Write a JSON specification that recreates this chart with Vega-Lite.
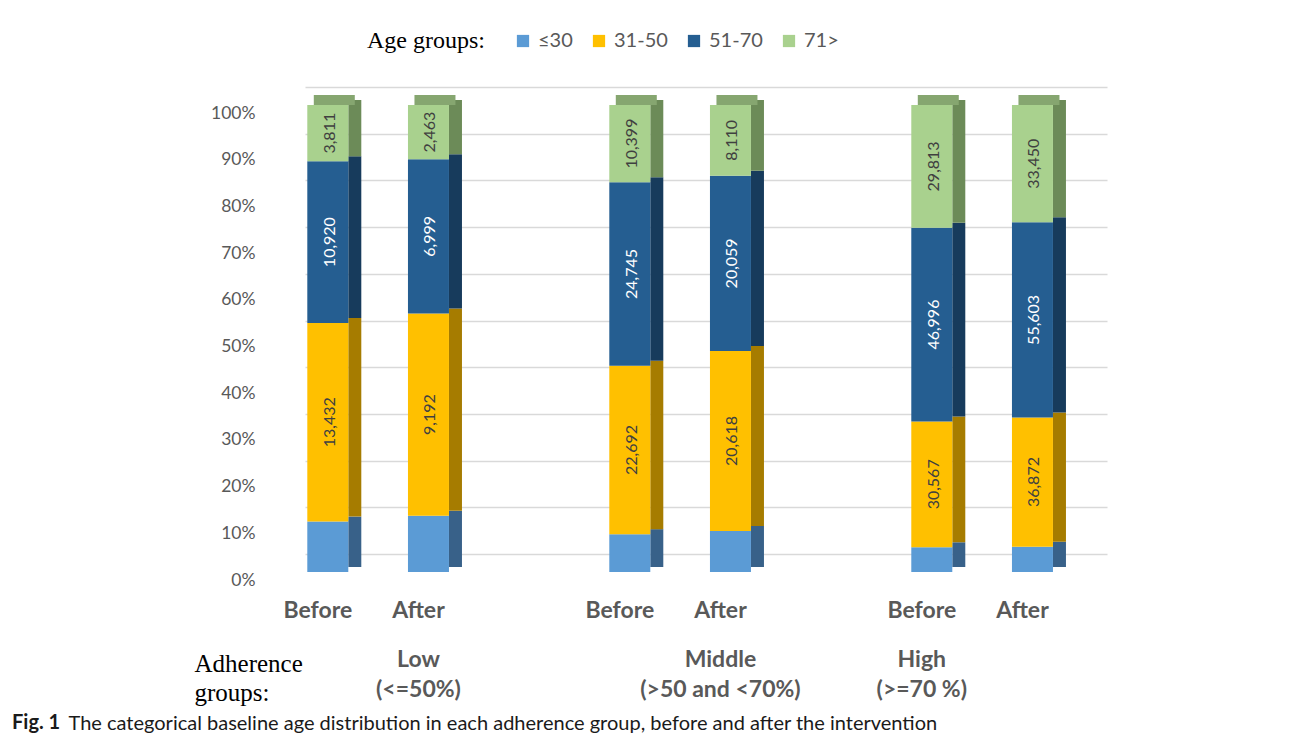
{
  "$schema": "https://vega.github.io/schema/vega-lite/v6.json",
  "width": 802,
  "height": 467,
  "autosize": {"type": "none"},
  "padding": {"left": 305, "top": 105, "right": 185, "bottom": 176},
  "background": "#ffffff",
  "datasets": {
    "ages": [
      {"bar": "Low|Before", "age": "≤30", "k": 1, "count": 3410},
      {"bar": "Low|Before", "age": "31-50", "k": 2, "count": 13432},
      {"bar": "Low|Before", "age": "51-70", "k": 3, "count": 10920},
      {"bar": "Low|Before", "age": "71>", "k": 4, "count": 3811},
      {"bar": "Low|After", "age": "≤30", "k": 1, "count": 2550},
      {"bar": "Low|After", "age": "31-50", "k": 2, "count": 9192},
      {"bar": "Low|After", "age": "51-70", "k": 3, "count": 6999},
      {"bar": "Low|After", "age": "71>", "k": 4, "count": 2463},
      {"bar": "Middle|Before", "age": "≤30", "k": 1, "count": 5100},
      {"bar": "Middle|Before", "age": "31-50", "k": 2, "count": 22692},
      {"bar": "Middle|Before", "age": "51-70", "k": 3, "count": 24745},
      {"bar": "Middle|Before", "age": "71>", "k": 4, "count": 10399},
      {"bar": "Middle|After", "age": "≤30", "k": 1, "count": 4700},
      {"bar": "Middle|After", "age": "31-50", "k": 2, "count": 20618},
      {"bar": "Middle|After", "age": "51-70", "k": 3, "count": 20059},
      {"bar": "Middle|After", "age": "71>", "k": 4, "count": 8110},
      {"bar": "High|Before", "age": "≤30", "k": 1, "count": 6000},
      {"bar": "High|Before", "age": "31-50", "k": 2, "count": 30567},
      {"bar": "High|Before", "age": "51-70", "k": 3, "count": 46996},
      {"bar": "High|Before", "age": "71>", "k": 4, "count": 29813},
      {"bar": "High|After", "age": "≤30", "k": 1, "count": 7200},
      {"bar": "High|After", "age": "31-50", "k": 2, "count": 36872},
      {"bar": "High|After", "age": "51-70", "k": 3, "count": 55603},
      {"bar": "High|After", "age": "71>", "k": 4, "count": 33450}
    ],
    "groups": [
      {"bar": "Low|After", "line1": "Low", "line2": "(<=50%)"},
      {"bar": "Middle|After", "line1": "Middle", "line2": "(>50 and <70%)"},
      {"bar": "High|Before", "line1": "High", "line2": "(>=70 %)"}
    ]
  },
  "title": {
    "text": "Fig. 1",
    "orient": "bottom",
    "anchor": "start",
    "font": "Lato",
    "fontSize": 20,
    "fontWeight": "bold",
    "color": "#1a1a1a",
    "dx": -56,
    "dy": -30,
    "offset": 10
  },
  "encoding": {
    "x": {
      "field": "bar",
      "type": "nominal",
      "sort": null,
      "scale": {
        "domain": ["Low|Before", "Low|After", "gap1", "Middle|Before", "Middle|After", "gap2", "High|Before", "High|After"],
        "paddingInner": 0.547,
        "paddingOuter": 0.257,
        "align": 0,
        "round": false
      },
      "axis": {
        "labelExpr": "indexof(datum.value, '|') >= 0 ? split(datum.value, '|')[1] : ''",
        "labelAngle": 0,
        "labelFont": "Lato",
        "labelFontSize": 23,
        "labelFontWeight": "bold",
        "labelColor": "#595959",
        "labelPadding": 27,
        "labelOffset": -10,
        "domain": false,
        "ticks": false,
        "grid": false,
        "title": ["Adherence", "groups:"],
        "titleFont": "Liberation Serif",
        "titleFontSize": 25,
        "titleFontWeight": "normal",
        "titleColor": "#000000",
        "titleAlign": "left",
        "titleBaseline": "alphabetic",
        "titleLineHeight": 29,
        "titleX": -111,
        "titleY": 99
      }
    }
  },
  "layer": [
    {
      "data": {"name": "ages"},
      "mark": {"type": "bar", "width": 13, "xOffset": 27, "yOffset": -5, "y2Offset": -5},
      "encoding": {
        "y": {"field": "count", "type": "quantitative", "stack": "normalize"},
        "color": {
          "field": "age",
          "type": "nominal",
          "scale": {"domain": ["≤30", "31-50", "51-70", "71>"], "range": ["#386189", "#a67c00", "#173b5c", "#6c8b58"]},
          "legend": null
        },
        "order": {"field": "k", "type": "quantitative"}
      }
    },
    {
      "data": {"name": "ages"},
      "mark": {"type": "bar", "width": 41},
      "encoding": {
        "y": {
          "field": "count",
          "type": "quantitative",
          "stack": "normalize",
          "scale": {"domain": [0, 1]},
          "axis": {
            "values": [0, 0.1, 0.2, 0.3, 0.4, 0.5, 0.6, 0.7, 0.8, 0.9, 1],
            "format": ".0%",
            "grid": true,
            "gridColor": "#d9d9d9",
            "gridWidth": 1.5,
            "domain": false,
            "ticks": false,
            "tickOffset": -18,
            "labelOffset": 26,
            "labelPadding": 50,
            "labelFont": "Lato",
            "labelFontSize": 17.5,
            "labelColor": "#595959",
            "title": "The categorical baseline age distribution in each adherence group, before and after the intervention",
            "titleAngle": 0,
            "titleAlign": "left",
            "titleBaseline": "alphabetic",
            "titleFont": "Lato",
            "titleFontSize": 20,
            "titleFontWeight": "normal",
            "titleColor": "#1a1a1a",
            "titleX": -237,
            "titleY": 624
          }
        },
        "color": {
          "field": "age",
          "type": "nominal",
          "scale": {"domain": ["≤30", "31-50", "51-70", "71>"], "range": ["#5b9bd5", "#ffc000", "#255e91", "#a9d18e"]},
          "legend": {
            "title": "Age groups:",
            "orient": "none",
            "direction": "horizontal",
            "legendX": 62,
            "legendY": -74,
            "titleOrient": "left",
            "titleFont": "Liberation Serif",
            "titleFontSize": 24,
            "titleFontWeight": "normal",
            "titleColor": "#000000",
            "titlePadding": 28,
            "labelFont": "Lato",
            "labelFontSize": 20,
            "labelColor": "#595959",
            "labelOffset": 5,
            "symbolType": "square",
            "symbolSize": 150,
            "symbolStrokeWidth": 0,
            "symbolOpacity": 1,
            "columnPadding": 16
          }
        },
        "order": {"field": "k", "type": "quantitative"}
      }
    },
    {
      "data": {"name": "ages"},
      "transform": [{"filter": "datum.age === '71>'"}],
      "mark": {"type": "tick", "thickness": 10, "size": 41, "xOffset": 6.5, "yOffset": -5, "color": "#86a670", "opacity": 1},
      "encoding": {
        "y": {"datum": 1, "type": "quantitative"}
      }
    },
    {
      "data": {"name": "ages"},
      "mark": {"type": "text", "angle": 270, "font": "Lato", "fontSize": 16, "baseline": "middle", "align": "center", "dy": 2},
      "encoding": {
        "y": {"field": "count", "type": "quantitative", "stack": "normalize", "bandPosition": 0.5},
        "detail": {"field": "age", "type": "nominal"},
        "order": {"field": "k", "type": "quantitative"},
        "text": {"field": "count", "type": "quantitative", "format": ","},
        "color": {"condition": {"test": "datum.age === '51-70'", "value": "#ffffff"}, "value": "#404040"},
        "opacity": {"condition": {"test": "datum.age === '≤30'", "value": 0}, "value": 1}
      }
    },
    {
      "data": {"name": "groups"},
      "mark": {"type": "text", "font": "Lato", "fontSize": 23, "fontWeight": "bold", "color": "#595959", "baseline": "middle", "dx": -10, "dy": 88},
      "encoding": {
        "y": {"datum": 0, "type": "quantitative"},
        "text": {"field": "line1", "type": "nominal"}
      }
    },
    {
      "data": {"name": "groups"},
      "mark": {"type": "text", "font": "Lato", "fontSize": 23, "fontWeight": "bold", "color": "#595959", "baseline": "middle", "dx": -10, "dy": 118},
      "encoding": {
        "y": {"datum": 0, "type": "quantitative"},
        "text": {"field": "line2", "type": "nominal"}
      }
    }
  ],
  "resolve": {"scale": {"color": "independent"}, "legend": {"color": "independent"}},
  "config": {"view": {"stroke": null}}
}
